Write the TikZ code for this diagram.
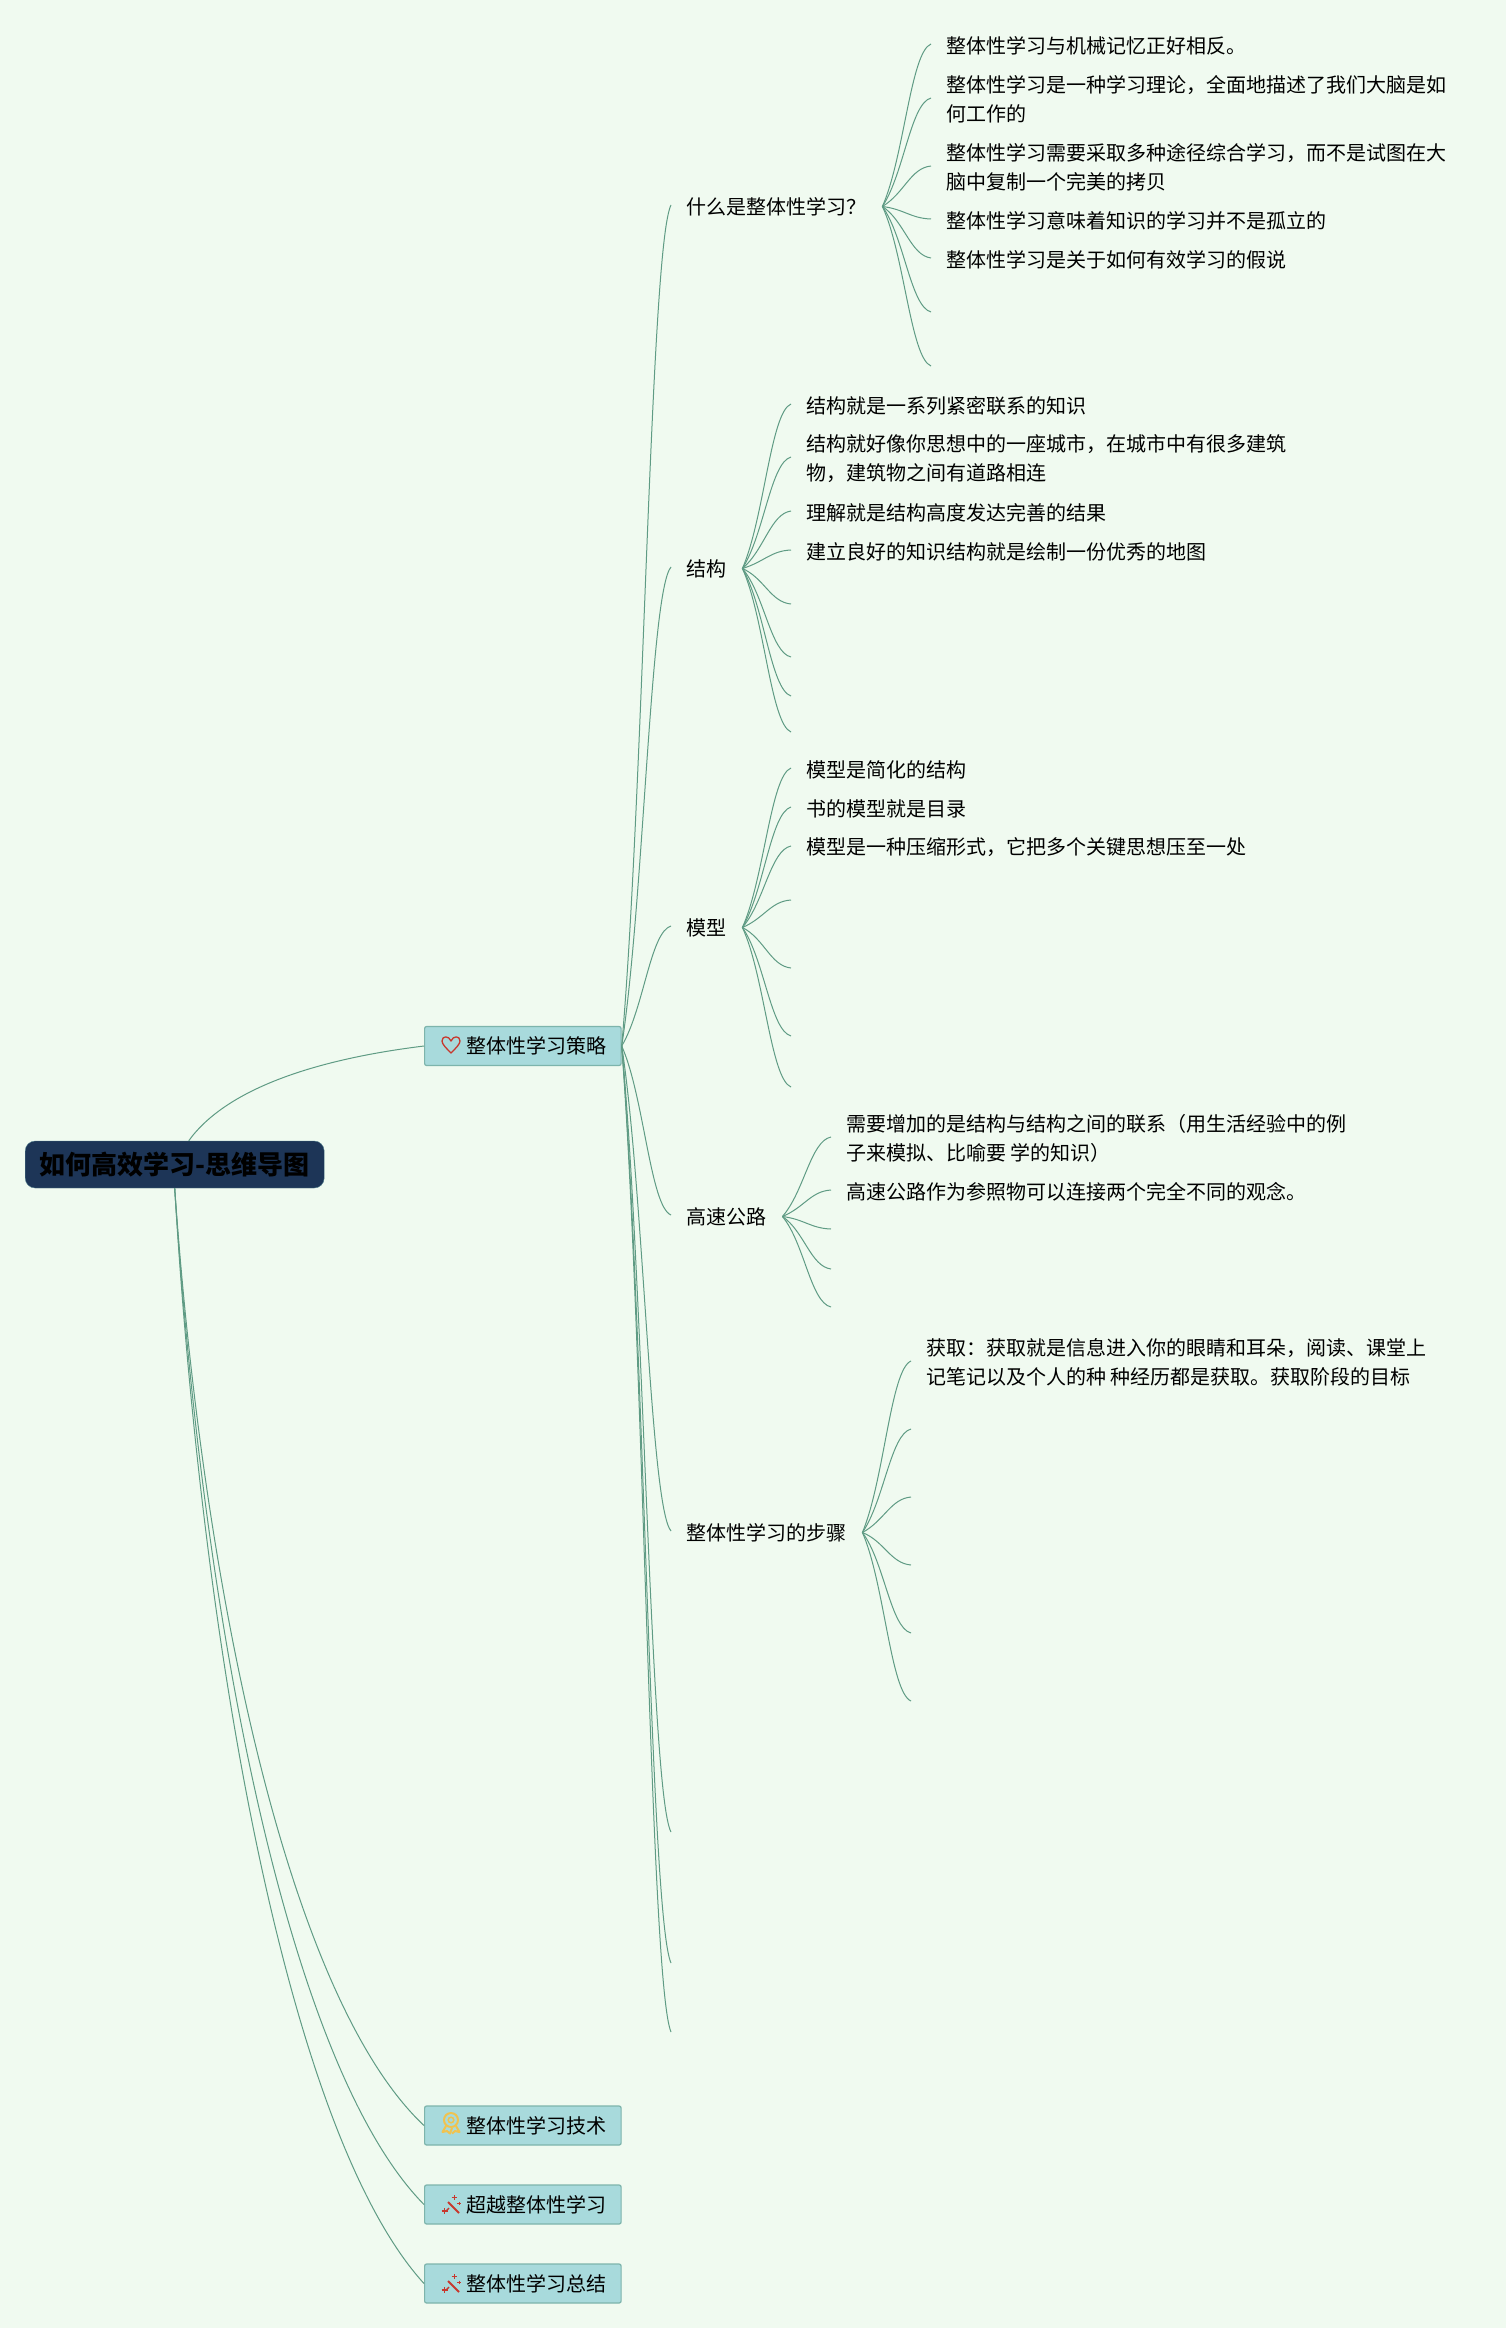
\documentclass[tikz,border=0pt]{standalone}
\usepackage{fontspec}
\setmainfont{Noto Sans CJK SC}
\usetikzlibrary{calc}
\definecolor{pagebg}{RGB}{240, 250, 240}
\definecolor{rootblue}{RGB}{29, 53, 87}
\definecolor{rootedge}{RGB}{80, 125, 140}
\definecolor{topicfill}{RGB}{168, 218, 220}
\definecolor{topicedge}{RGB}{125, 180, 172}
\definecolor{linkgreen}{RGB}{95, 155, 132}
\definecolor{iconred}{RGB}{200, 55, 45}
\definecolor{iconyellow}{RGB}{240, 195, 80}

\begin{document}
\begin{tikzpicture}[
  x=1pt, y=-1pt,
  rootnd/.style={draw=rootedge, fill=rootblue, rounded corners=10pt, minimum width=299pt, minimum height=47pt, anchor=west, font=\fontsize{26}{30}\selectfont\bfseries},
  topicnd/.style={draw=topicedge, fill=topicfill, line width=1.2pt, rounded corners=2pt, minimum height=39pt, inner xsep=14.5pt, anchor=west, font=\fontsize{20}{29}\selectfont, execute at begin node={\hspace*{27.5pt}}},
  subnd/.style={anchor=west, yshift=-1.5pt, inner xsep=15.5pt, font=\fontsize{20}{29}\selectfont},
  leafnd/.style={anchor=west, yshift=-1.5pt, inner xsep=15pt, align=left, font=\fontsize{20}{29}\selectfont},
  endpt/.style={yshift=-1.5pt},
  lnk/.style={draw=linkgreen, line width=1pt, to path={let \p1=([yshift=1.5pt]\tikztostart), \p2=([yshift=1.5pt]\tikztotarget), \n1={\x2-\x1}, \n2={\y2-\y1} in .. controls (\x1+0.45*\n1, \y1+0.3*\n2) and (\x1+0.58*\n1, \y2-0.05*\n2) .. (\p2)}},
  rootlnk/.style={draw=linkgreen, line width=1pt},
  hearticon/.pic={
    \draw[iconred, line width=1.3pt, line join=round] (0,8) .. controls (-5,3) and (-9,-1) .. (-9,-4) .. controls (-9,-9.5) and (-2,-9.5) .. (0,-4) .. controls (2,-9.5) and (9,-9.5) .. (9,-4) .. controls (9,-1) and (5,3) .. (0,8) -- cycle;
  },
  medalicon/.pic={
    \draw[iconyellow, line width=2pt] (0,-3) circle (7pt);
    \draw[iconyellow, line width=1.5pt] (0,-3) circle (2.8pt);
    \draw[iconyellow, line width=2pt, line join=round] (-5,3) -- (-8.5,9) -- (-4,8) -- (-1,10.5) -- (1,5);
    \draw[iconyellow, line width=2pt, line join=round] (5,3) -- (8.5,9) -- (4,8) -- (1,10.5);
  },
  wandicon/.pic={
    \draw[iconred, line width=2pt] (-3,-3) -- (8,8);
    \draw[iconred, line width=1.4pt] (-9.5,6) -- (-3.5,6) (-6.5,3) -- (-6.5,9);
    \draw[iconred, line width=1pt] (3,-10) -- (3,-5) (0.5,-7.5) -- (5.5,-7.5);
    \draw[iconred, line width=1pt] (8,-3.5) -- (8,0) (6.3,-1.7) -- (9.7,-1.7);
    \draw[iconred, line width=1.4pt] (-2,3) -- (-5.5,6.5);
  },
]
  \fill[pagebg] (0,0) rectangle (1506,2328);
  \useasboundingbox (0,0) rectangle (1506,2328);

  \node[rootnd] (root) at (25,1164.5) {如何高效学习-思维导图};
  \node[topicnd] (strat) at (424,1046) {整体性学习策略};
  \node[topicnd] (tech) at (424,2125.5) {整体性学习技术};
  \node[topicnd] (beyond) at (424,2204.5) {超越整体性学习};
  \node[topicnd] (summ) at (424,2283.5) {整体性学习总结};

  \pic at (451,1045) {hearticon};
  \pic at (451,2123) {medalicon};
  \pic at (451,2205) {wandicon};
  \pic at (451,2284) {wandicon};

  \node[subnd] (what) at (671,205) {什么是整体性学习？};
  \node[subnd] (struct) at (671,567) {结构};
  \node[subnd] (model) at (671,926) {模型};
  \node[subnd] (road) at (671,1215) {高速公路};
  \node[subnd] (steps) at (671,1531) {整体性学习的步骤};
  \coordinate[endpt] (free1) at (671,1832);
  \coordinate[endpt] (free2) at (671,1963);
  \coordinate[endpt] (free3) at (671,2032);

  \node[leafnd] (wa) at (931,44) {整体性学习与机械记忆正好相反。};
  \node[leafnd] (wb) at (931,98) {整体性学习是一种学习理论，全面地描述了我们大脑是如\\何工作的};
  \node[leafnd] (wc) at (931,166) {整体性学习需要采取多种途径综合学习，而不是试图在大\\脑中复制一个完美的拷贝};
  \node[leafnd] (wd) at (931,219) {整体性学习意味着知识的学习并不是孤立的};
  \node[leafnd] (we) at (931,258) {整体性学习是关于如何有效学习的假说};
  \coordinate[endpt] (wf) at (931,312);
  \coordinate[endpt] (wg) at (931,366);

  \node[leafnd] (sa) at (791,404) {结构就是一系列紧密联系的知识};
  \node[leafnd] (sb) at (791,457) {结构就好像你思想中的一座城市，在城市中有很多建筑\\物，建筑物之间有道路相连};
  \node[leafnd] (sc) at (791,511) {理解就是结构高度发达完善的结果};
  \node[leafnd] (sd) at (791,550) {建立良好的知识结构就是绘制一份优秀的地图};
  \coordinate[endpt] (se) at (791,604);
  \coordinate[endpt] (sf) at (791,657);
  \coordinate[endpt] (sg) at (791,696);
  \coordinate[endpt] (sh) at (791,732);

  \node[leafnd] (ma) at (791,768) {模型是简化的结构};
  \node[leafnd] (mb) at (791,807) {书的模型就是目录};
  \node[leafnd] (mc) at (791,846) {模型是一种压缩形式，它把多个关键思想压至一处};
  \coordinate[endpt] (md) at (791,900);
  \coordinate[endpt] (me) at (791,968);
  \coordinate[endpt] (mf) at (791,1036);
  \coordinate[endpt] (mg) at (791,1087);

  \node[leafnd] (ra) at (831,1137) {需要增加的是结构与结构之间的联系（用生活经验中的例\\子来模拟、比喻要 学的知识）};
  \node[leafnd] (rb) at (831,1190) {高速公路作为参照物可以连接两个完全不同的观念。};
  \coordinate[endpt] (rc) at (831,1229);
  \coordinate[endpt] (rd) at (831,1269);
  \coordinate[endpt] (re) at (831,1307);

  \node[leafnd] (pa) at (911,1361) {获取：获取就是信息进入你的眼睛和耳朵，阅读、课堂上\\记笔记以及个人的种 种经历都是获取。获取阶段的目标};
  \coordinate[endpt] (pb) at (911,1429);
  \coordinate[endpt] (pc) at (911,1497);
  \coordinate[endpt] (pd) at (911,1565);
  \coordinate[endpt] (pe) at (911,1633);
  \coordinate[endpt] (pf) at (911,1701);

  \draw[rootlnk] ([xshift=14pt]root.north) .. controls +(36,-50) and +(-114,14) .. (strat.west);
  \draw[rootlnk] (root.south) .. controls +(29,413) and +(-133,-125) .. (tech.west);
  \draw[rootlnk] (root.south) .. controls +(29,448) and +(-133,-135) .. (beyond.west);
  \draw[rootlnk] (root.south) .. controls +(29,482) and +(-133,-146) .. (summ.west);

  \foreach \t in {what.west, struct.west, model.west, road.west, steps.west, free1, free2, free3}
    \draw[lnk] (strat.east) to (\t);
  \foreach \t in {wa.west, wb.west, wc.west, wd.west, we.west, wf, wg}
    \draw[lnk] (what.east) to (\t);
  \foreach \t in {sa.west, sb.west, sc.west, sd.west, se, sf, sg, sh}
    \draw[lnk] (struct.east) to (\t);
  \foreach \t in {ma.west, mb.west, mc.west, md, me, mf, mg}
    \draw[lnk] (model.east) to (\t);
  \foreach \t in {ra.west, rb.west, rc, rd, re}
    \draw[lnk] (road.east) to (\t);
  \foreach \t in {pa.west, pb, pc, pd, pe, pf}
    \draw[lnk] (steps.east) to (\t);
\end{tikzpicture}
\end{document}
